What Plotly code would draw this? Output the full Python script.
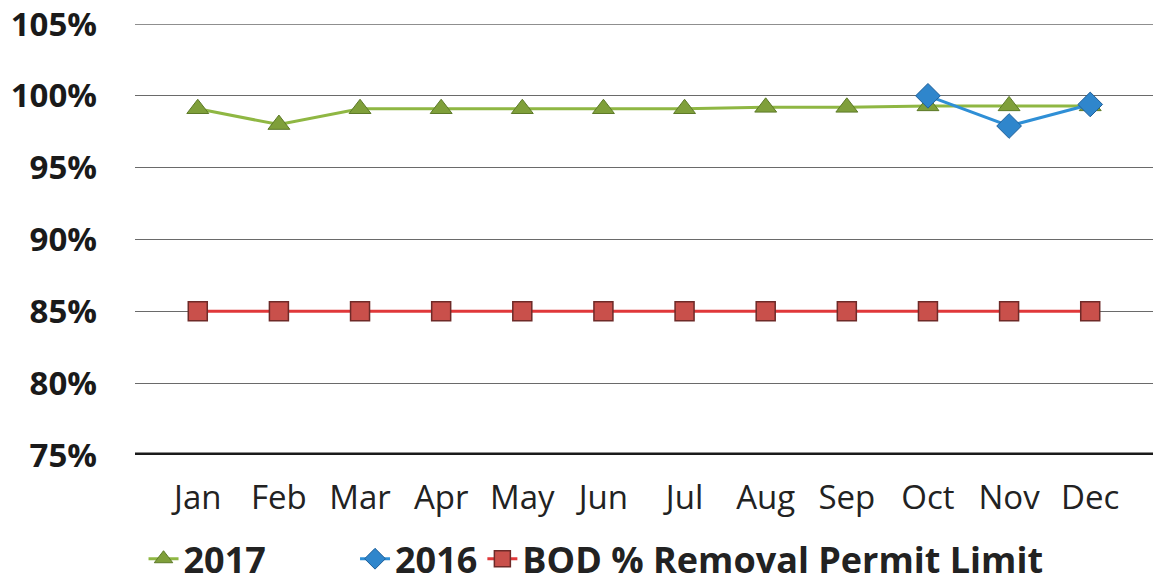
import plotly.graph_objects as go

months = ["Jan", "Feb", "Mar", "Apr", "May", "Jun", "Jul", "Aug", "Sep", "Oct", "Nov", "Dec"]
y2017 = [0.991, 0.980, 0.991, 0.991, 0.991, 0.991, 0.991, 0.992, 0.992, 0.993, 0.993, 0.993]
y2016 = [None, None, None, None, None, None, None, None, None, 1.000, 0.979, 0.994]
permit = [0.85] * 12
y_ticks = [0.75, 0.80, 0.85, 0.90, 0.95, 1.00, 1.05]
series_names = ["2017", "2016", "BOD % Removal Permit Limit"]

NB = "\u00a0"
fig = go.Figure()
fig.add_trace(go.Scatter(
    x=months, y=y2017, name=series_names[0] + NB * 9, mode="lines+markers",
    line=dict(color="#8fb743", width=3),
    marker=dict(symbol="triangle-up", size=19, color="#7f9f3a",
                line=dict(color="#5d7a28", width=1)),
))
fig.add_trace(go.Scatter(
    x=months, y=y2016, name=series_names[1], mode="lines+markers",
    line=dict(color="#2f8fd6", width=3),
    marker=dict(symbol="diamond", size=19, color="#2f86cc",
                line=dict(color="#1f5f99", width=1)),
    connectgaps=False,
))
fig.add_trace(go.Scatter(
    x=months, y=permit, name=series_names[2], mode="lines+markers",
    line=dict(color="#e0383a", width=3),
    marker=dict(symbol="square", size=19, color="#c9504b",
                line=dict(color="#6e2a28", width=1.5)),
))

# page body has an 8px margin, so the figure is drawn 8px smaller and offset
fig.update_layout(
    width=1153, height=578,
    margin=dict(l=127, r=8, t=16, b=131, autoexpand=False),
    paper_bgcolor="white", plot_bgcolor="white",
    showlegend=True,
    legend=dict(orientation="h", x=0.51, xanchor="center", xref="container",
                y=0.047, yanchor="middle", yref="container",
                font=dict(family="Open Sans", size=36, color="#222222", weight="bold"),
                tracegroupgap=0),
    font=dict(family="Open Sans", color="#222222"),
)
fig.update_xaxes(
    showgrid=False, showline=False, zeroline=False, automargin=False,
    tickfont=dict(family="Open Sans", size=33, color="#222222"),
    ticks="", ticklabelstandoff=20, ticklabeloverflow="allow",
)
fig.update_yaxes(
    range=[0.75, 1.05], tickvals=y_ticks, tickformat=".0%",
    showgrid=True, gridcolor="#6a6a6a", gridwidth=1.3,
    zeroline=False, showline=False, automargin=False,
    tickfont=dict(family="Open Sans", size=33, color="#1a1a1a", weight="bold"),
    ticklabelstandoff=37, ticklabeloverflow="allow",
)
fig.add_shape(type="line", xref="paper", yref="y", x0=0, x1=1,
              y0=y_ticks[-1], y1=y_ticks[-1], line=dict(color="#6a6a6a", width=1.3),
              layer="below")
fig.add_shape(type="line", xref="paper", yref="y", x0=0, x1=1,
              y0=y_ticks[0], y1=y_ticks[0], line=dict(color="#1a1a1a", width=5))

fig.write_html("out.html")
